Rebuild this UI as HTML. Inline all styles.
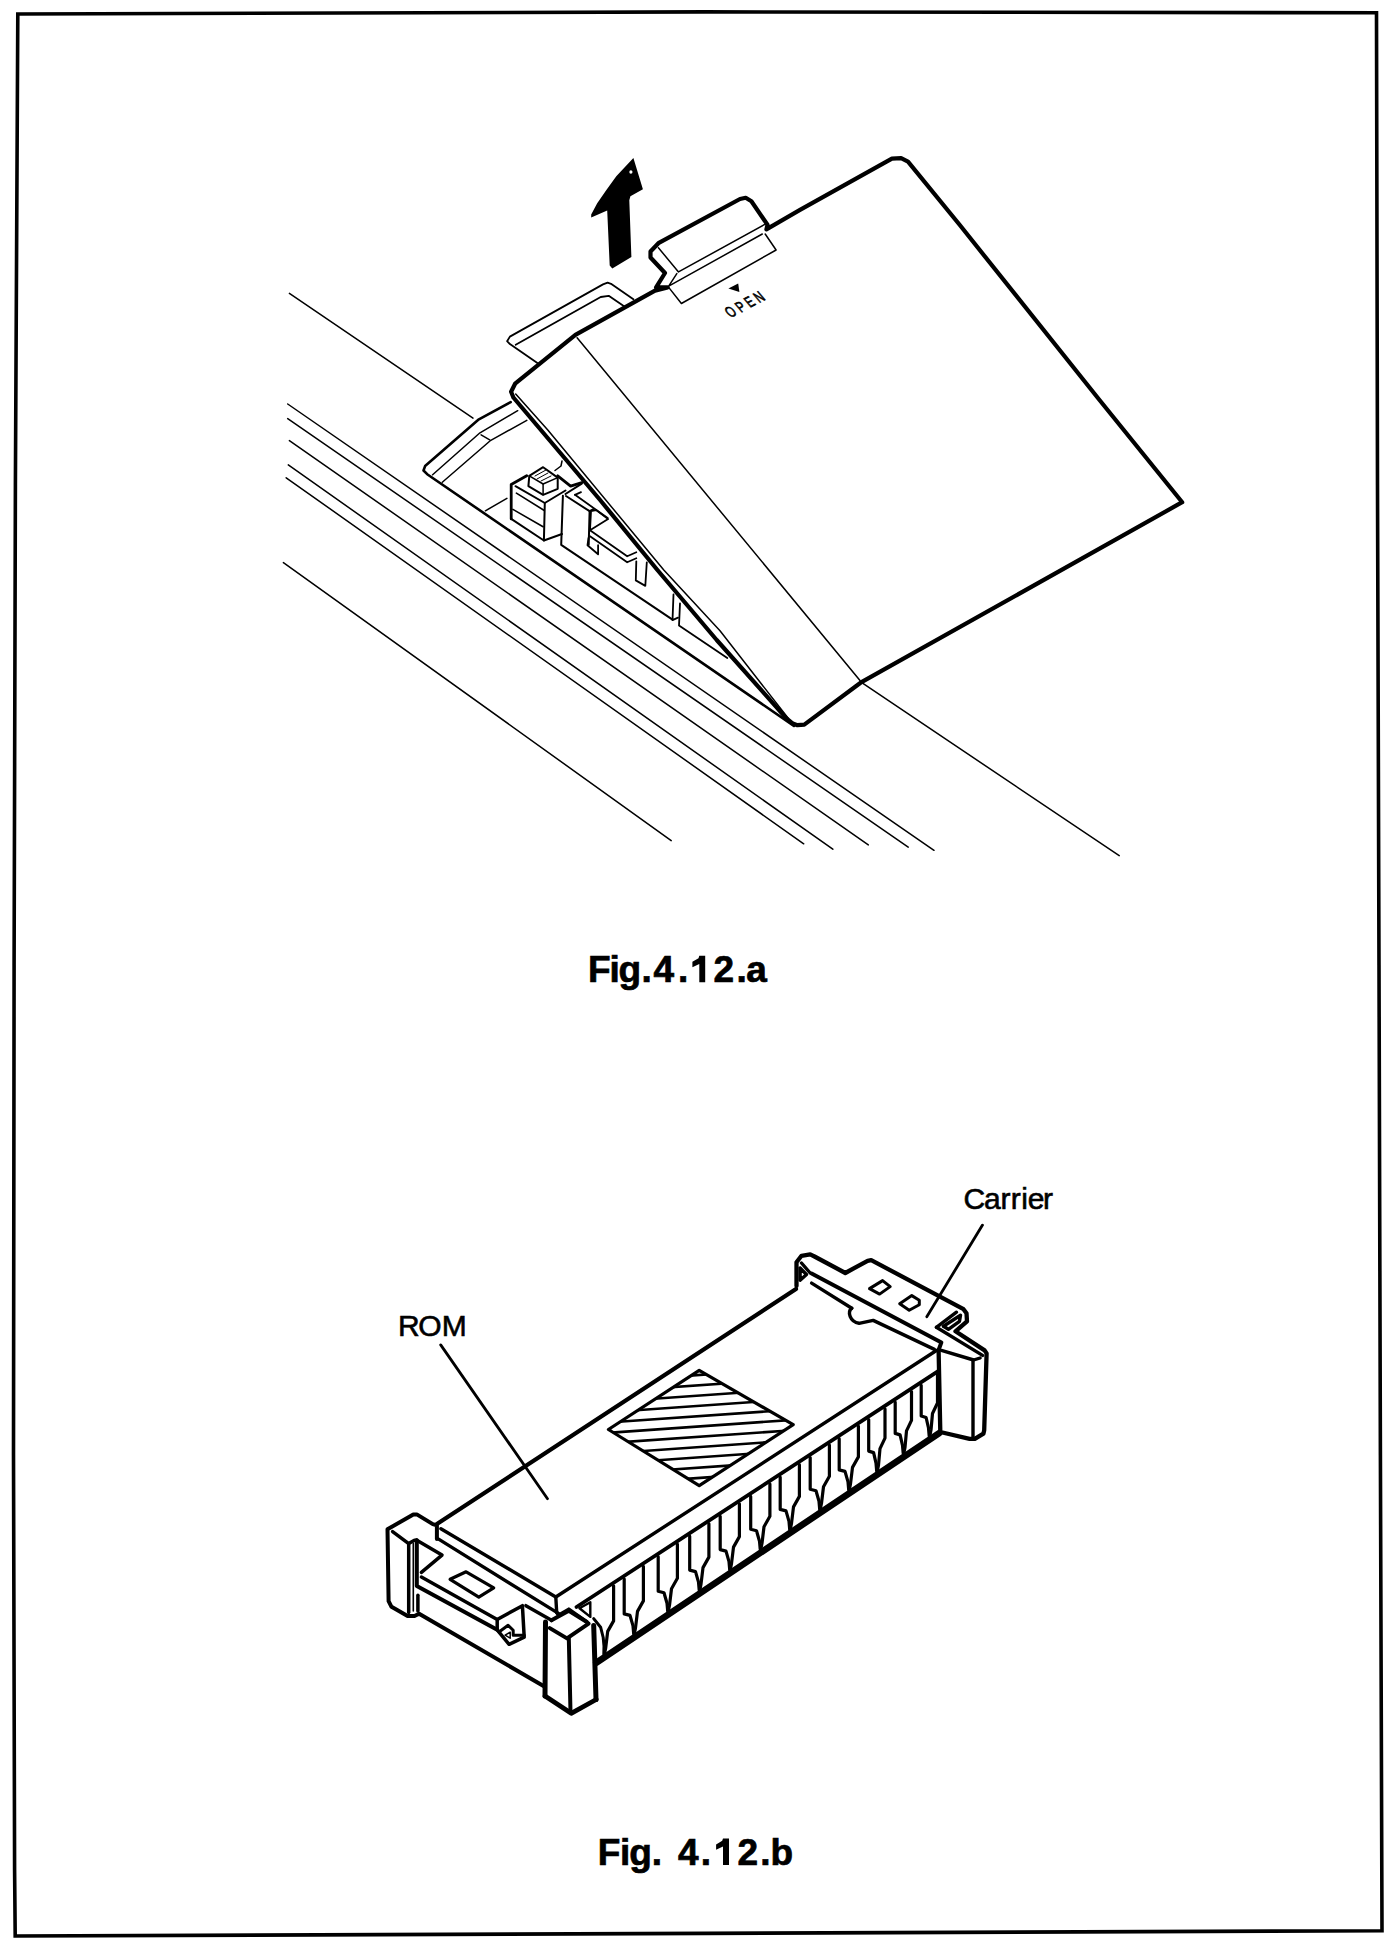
<!DOCTYPE html>
<html>
<head>
<meta charset="utf-8">
<style>
html,body{margin:0;padding:0;background:#fff;}
body{width:1393px;height:1943px;overflow:hidden;position:relative;}
svg{position:absolute;left:0;top:0;}
.t{font-family:"Liberation Sans",sans-serif;fill:#000;}
</style>
</head>
<body>
<svg width="1393" height="1943" viewBox="0 0 1393 1943">
<g fill="none" stroke="#000" stroke-linejoin="round" stroke-linecap="round">
<!-- page border -->
<path stroke-width="3.6" stroke-linejoin="miter" d="M17.8,14 L705,11.9 L1376.5,12.8 L1377.5,485 L1379,965 L1380.4,1455 L1382,1930.7 L705,1933.4 L15.2,1936 L14.6,1870 L13.5,1455 L14.1,965 L15.4,485 Z"/>

<!-- ========== FIG A ========== -->
<!-- arrow -->
<polygon fill="#000" stroke="none" points="633.4,158.1 642.9,189.2 630.4,196.3 629.3,200.3 631.4,257.1 612.3,268.6 609.7,265.6 607.2,210.4 591.2,217.4 591.2,214.4 597.2,203.3 606.2,190.3 616.3,176.2"/>
<ellipse cx="630.9" cy="172" rx="1.6" ry="1.8" fill="#fff" stroke="none"/>

<!-- long thin lines -->
<g stroke-width="1.5">
<line x1="289.4" y1="293.3" x2="473" y2="418.2"/>
<line x1="862.9" y1="683.4" x2="1119.2" y2="855.7"/>
<line x1="287.7" y1="404" x2="934" y2="850.3"/>
<line x1="287.7" y1="418.6" x2="908.2" y2="847.1"/>
<line x1="289.4" y1="440.6" x2="868.3" y2="844.9"/>
<line x1="288.3" y1="464.9" x2="832.8" y2="849.2"/>
<line x1="286.2" y1="477.8" x2="803.7" y2="843.8"/>
<line x1="283.4" y1="562.6" x2="671.2" y2="840.6"/>
</g>

<!-- recess -->
<polyline stroke-width="2.6" points="510.7,402.1 478.9,419.3 425.1,466.1 423.5,470.5 427.2,474.2 793.9,725.9"/>
<g stroke-width="1.5">
<polyline points="517.7,410.7 480,432.8 432.6,474.8"/>
<polyline points="481.1,434.9 489.7,439.8"/>
<polyline points="526.8,420.4 490.8,440.3 442.3,482.3"/>
<polyline points="506.9,498.4 485.4,510.8"/>
</g>

<!-- slot frame above cover -->
<g stroke-width="1.8">
<polyline points="633.4,299.3 611,283.8 607.6,282.6 603,284.4 509.9,336.6 507.1,341.2 509.9,344.1 538.1,363.6"/>
<polyline points="624.8,306.8 608.7,295.8 600.7,297 515.7,344.7"/>
</g>

<!-- switch block and internals -->
<g stroke-width="2">
<polyline stroke-width="2.8" points="526.7,475.8 511.2,484.5 511.2,518.9"/>
<polyline points="511.2,518.9 543.9,540.5 562,534"/>
<polyline points="515.5,486.2 544.8,503 565.5,490.5"/>
<polyline points="544.8,503 543.9,540.5"/>
<polyline stroke-width="1.6" points="516.4,493.1 543.9,510.3"/>
<polyline stroke-width="1.6" points="512.9,509.4 543.1,526.7"/>
<polygon points="529.3,475.8 528.4,486.2 543.1,494.8 557.7,488.8 557.7,477.6 543.1,467.2"/>
<polyline stroke-width="1.5" points="529.3,475.8 543.1,484 557.7,477.6"/>
<polyline stroke-width="1.5" points="543.1,484 543.1,494.8"/>
<polyline stroke-width="1" points="535,476 546,470"/>
<polyline stroke-width="1" points="537,479 548,473"/>
<polyline stroke-width="1" points="541,481 551,476"/>
<polyline stroke-width="2.8" points="557.7,475.8 570.6,486.2 581.8,482.7"/>
<polyline stroke-width="1.5" points="555,470.5 561,466 562,461"/>
<polyline points="562.9,495.7 561.2,544.8 672.5,619.6"/>
<polyline points="565.5,494 581.8,483.6"/>
<polyline points="566,496 589.6,511.2 588.7,544.8"/>
<polyline points="589.6,511.2 593,509.4"/>
<polygon stroke-width="1.8" points="591,511.1 596.1,510 608.1,519.1 590,530.2"/>
<polyline stroke-width="1.8" points="575,494.8 581,492.2"/>
<polyline stroke-width="1.8" points="575,494.8 607.7,518.1"/>
<polyline stroke-width="1.8" points="590,530.2 627.2,556.3 636.3,552.3"/>
<polyline stroke-width="1.8" points="590,536.2 627.2,562.3 636.3,558.3"/>
<polyline stroke-width="1.8" points="588.5,538 587.5,545.2 598.1,554.3 598.1,545.2"/>
<polyline stroke-width="1.8" points="636.3,561.3 635.8,580.4 645.3,585.9 646.8,562.3"/>
<polyline stroke-width="1.8" points="673.5,594.5 672.5,620.1 678,617.6"/>
<polyline stroke-width="1.8" points="680,603.5 679,625.6 727.3,658.1"/>
</g>

<!-- cover outline -->
<polyline stroke-width="4.2" points="513.4,397.5 600.1,500 657.4,570 716.7,640 785.9,717.8 792.8,723.5 797.4,725.2 804.3,724.6 860.6,682.7 1182.2,502.2 1099.5,400 960,225.3 908,161.6 901.1,158.1 891.9,158.7 800,209.8 766.4,229.4 767.5,224.8 751.4,201.3 745.7,197.8 740,199 658.4,243.2 650.5,251.5 650.5,257.5 665,273 656.1,287.4 667.6,287.4 655,290.7 575.4,334.9 515.1,383.7 511.1,391.8 513.4,397.5"/>
<g stroke-width="1.5">
<polyline points="515.7,394 547.8,430 663.8,570 720,630.7 788.2,718.3"/>
<line x1="577.1" y1="337.8" x2="860" y2="680.4"/>
<polyline points="658.4,247.8 678.5,271.9 765.2,224.2"/>
<polyline points="676.8,273.6 668.7,286.2 762.3,234"/>
<polyline points="668.7,287.4 681.4,303.5 776.1,250 765.2,234"/>
</g>
<polygon fill="#000" stroke="none" points="728.4,288.5 738.2,283.4 739.4,292"/>
</g>
<text class="t" x="0" y="0" font-size="15.4" letter-spacing="4.6" stroke="#000" stroke-width="0.7" transform="matrix(0.621,-0.323,0.69,0.81,730.6,318)">OPEN</text>

<!-- captions -->
<text class="t" x="588.1 609.6 618.6 641.6 653.5 677.9" y="982.3" font-size="37" font-weight="bold" stroke="#000" stroke-width="0.7">Fig.4.</text><polygon fill="#000" points="699.3,955.8 705.2,955.8 705.2,982.3 699.3,982.3 699.3,964 692.4,967.2 692.4,961.8 698.5,958.2"/><text class="t" x="713.6 736.4 746.2" y="982.3" font-size="37" font-weight="bold" stroke="#000" stroke-width="0.7">2.a</text>
<text class="t" x="597.8 620.1 629.3 651.7 678 700.8" y="1865.1" font-size="37" font-weight="bold" stroke="#000" stroke-width="0.7">Fig.4.</text><polygon fill="#000" points="723,1838.4 729,1838.4 729,1865.1 723,1865.1 723,1846.6 716.1,1849.8 716.1,1844.4 722.2,1840.8"/><text class="t" x="737.5 760.2 770.5" y="1865.1" font-size="37" font-weight="bold" stroke="#000" stroke-width="0.7">2.b</text>
<text class="t" x="963.4 984 1000.5 1010.8 1021.2 1027.8 1043" y="1208.6" font-size="30" stroke="#000" stroke-width="0.6">Carrier</text>
<text class="t" x="397.9 418.3 441.7" y="1335.9" font-size="30" stroke="#000" stroke-width="0.6">ROM</text>

<!-- ========== FIG B ========== -->
<!--FIGB_START-->
<g id="figb" fill="none" stroke="#000" stroke-linejoin="round" stroke-linecap="round">
<defs><clipPath id="dia"><polygon points="699.2,1370.3 793.2,1424.7 699.2,1485.6 608.4,1429.5"/></clipPath></defs>
<!-- leaders -->
<line stroke-width="2.8" x1="440.7" y1="1344.9" x2="547.5" y2="1498.7"/>
<line stroke-width="2.8" x1="982.5" y1="1225.1" x2="926.8" y2="1316.7"/>
<!-- hatched diamond -->
<g stroke-width="2.6" clip-path="url(#dia)">
<line x1="600.0" y1="1381.9" x2="800.0" y2="1367.9"/>
<line x1="600.0" y1="1392.2" x2="800.0" y2="1378.2"/>
<line x1="600.0" y1="1402.5" x2="800.0" y2="1388.5"/>
<line x1="600.0" y1="1412.8" x2="800.0" y2="1398.8"/>
<line x1="600.0" y1="1423.1" x2="800.0" y2="1409.1"/>
<line x1="600.0" y1="1433.4" x2="800.0" y2="1419.4"/>
<line x1="600.0" y1="1443.7" x2="800.0" y2="1429.7"/>
<line x1="600.0" y1="1454.0" x2="800.0" y2="1440.0"/>
<line x1="600.0" y1="1464.3" x2="800.0" y2="1450.3"/>
<line x1="600.0" y1="1474.6" x2="800.0" y2="1460.6"/>
<line x1="600.0" y1="1484.9" x2="800.0" y2="1470.9"/>
</g>
<polygon stroke-width="3.2" points="699.2,1370.3 793.2,1424.7 699.2,1485.6 608.4,1429.5"/>

<!-- ROM top face edges -->
<g stroke-width="3.4">
<polyline stroke-width="4.2" points="436.9,1524 796,1289"/>
<polyline points="440.9,1528.7 555.8,1597 936.4,1350.5"/>
<polyline points="811.6,1283.1 851.8,1308.2"/>
<path d="M851.8,1308.2 C847,1312 850,1322 859,1323.3 L873.2,1320.4 L934.4,1349.4"/>
<polyline points="438.6,1539.1 558.4,1613.4"/>
<polyline points="555.8,1597 556.7,1612.5"/>
<polyline points="556.7,1612.5 558.4,1615.1 568.8,1609.1 586.9,1622"/>
<polyline stroke-width="3.8" points="576.5,1607 938.6,1370.9"/>
<polyline stroke-width="2.4" points="579.5,1608.2 590.3,1602.2 590.3,1616.9 579.5,1608.2"/>
<polyline stroke-width="6.6" points="596.3,1662.7 939.4,1432.9"/>
</g>

<!-- pins -->
<g stroke-width="3.2">
<polyline points="613.6,1585.8 613.6,1620.9 607.7,1631.4 605.7,1647.9 604.5,1653.9"/>
<polyline points="624.2,1578.9 624.2,1613.9 630.0,1615.4 633.0,1625.9 633.7,1633.9"/>
<polyline points="643.4,1566.4 643.4,1600.9 637.5,1611.4 635.5,1627.9 634.3,1633.9"/>
<polyline points="658.2,1556.7 658.2,1591.2 664.0,1592.7 667.0,1603.2 667.7,1611.2"/>
<polyline points="677.4,1544.2 677.4,1578.2 671.5,1588.7 669.5,1605.2 668.3,1611.2"/>
<polyline points="689.7,1536.2 689.7,1570.1 695.5,1571.6 698.5,1582.1 699.2,1590.1"/>
<polyline points="708.9,1523.7 708.9,1557.1 703.0,1567.6 701.0,1584.1 699.8,1590.1"/>
<polyline points="720.2,1516.3 720.2,1549.6 726.0,1551.1 729.0,1561.6 729.7,1569.6"/>
<polyline points="739.4,1503.8 739.4,1536.6 733.5,1547.1 731.5,1563.6 730.3,1569.6"/>
<polyline points="750.7,1496.4 750.7,1529.2 756.5,1530.7 759.5,1541.2 760.2,1549.2"/>
<polyline points="769.9,1483.9 769.9,1516.2 764.0,1526.7 762.0,1543.2 760.8,1549.2"/>
<polyline points="780.2,1477.2 780.2,1509.4 786.0,1510.9 789.0,1521.4 789.7,1529.4"/>
<polyline points="799.4,1464.7 799.4,1496.4 793.5,1506.9 791.5,1523.4 790.3,1529.4"/>
<polyline points="810.2,1457.6 810.2,1489.3 816.0,1490.8 819.0,1501.3 819.7,1509.3"/>
<polyline points="829.4,1445.1 829.4,1476.3 823.5,1486.8 821.5,1503.3 820.3,1509.3"/>
<polyline points="839.2,1438.7 839.2,1469.9 845.0,1471.4 848.0,1481.9 848.7,1489.9"/>
<polyline points="858.4,1426.2 858.4,1456.9 852.5,1467.4 850.5,1483.9 849.3,1489.9"/>
<polyline points="868.7,1419.5 868.7,1451.1 873.6,1452.6 876.0,1463.1 876.7,1471.1"/>
<polyline points="885.0,1408.9 885.0,1438.1 880.0,1448.6 878.5,1465.1 877.3,1471.1"/>
<polyline points="895.2,1402.2 895.2,1433.4 900.1,1434.9 902.5,1445.4 903.2,1453.4"/>
<polyline points="911.5,1391.6 911.5,1420.4 906.5,1430.9 905.0,1447.4 903.8,1453.4"/>
<polyline points="921.2,1385.3 921.2,1416.0 926.1,1417.5 928.5,1428.0 929.2,1436.0"/>
<polyline points="937.5,1374.6 937.5,1403.0 932.5,1413.5 931.0,1430.0 929.8,1436.0"/>
</g>

<!-- left post 1 and rail -->
<g stroke-width="3.5">
<polyline stroke-width="4" points="436.9,1539.1 436.9,1525.3 432.8,1524.1 416.8,1514.4 413.3,1514.4 387.5,1529.3 388.6,1601.1 391.5,1606.8 407.6,1616 414.5,1616 419.1,1613.7 543.5,1686"/>
<polyline points="392.6,1531.6 408.7,1543.6 414.5,1540.2 416.8,1540.2"/>
<polyline points="408.7,1543.6 408.7,1612.6"/>
<polyline stroke-width="1.6" points="413.3,1543.6 413.3,1611"/>
<polyline points="416.8,1540.2 442,1555.1 421.4,1572.4"/>
<polyline stroke-width="4" points="416.8,1540.2 416.8,1586.1 497.2,1629.8"/>
<polyline points="421.4,1577 497.2,1619.5 497.2,1629.8"/>
<polyline points="497.2,1619.5 522.4,1605.7 524.2,1637.2 509.1,1644.3 497.2,1629.8"/>
<polyline stroke-width="3" points="499,1632 508.1,1625.2 513.2,1630.2 513.2,1635.2 524.2,1635.2"/>
<polygon stroke-width="1.5" points="505.1,1635.2 510.2,1632.2 510.2,1638.2"/>
<polyline points="525.9,1605.7 551.5,1620.3"/>
<polyline points="417.9,1595.3 417.9,1611"/>
<polygon stroke-width="3.2" points="450.1,1579.3 466.1,1571.8 493.7,1587.9 478.8,1597.1"/>
</g>

<!-- post 2 -->
<g stroke-width="4">
<polyline stroke-width="5" points="545.5,1622 545,1696"/>
<polyline points="551.5,1620.3 568.8,1610.8 586.9,1622"/>
<polyline points="549.8,1628.1 567,1638.4 588.6,1623.7"/>
<polyline points="568.8,1638 570.5,1712"/>
<polyline stroke-width="5" points="593.7,1625.5 596,1699.5"/>
<polyline stroke-width="4.8" points="545,1696 571.2,1713.3 596.2,1699.5"/>
<polyline stroke-width="3" points="593.7,1618.6 600.6,1627.2 603.2,1637.5 604,1646 603.8,1654"/>
</g>

<!-- carrier -->
<g stroke-width="3.4">
<polyline stroke-width="4.3" points="796.5,1286 796.5,1262.3 801.5,1255.8 810.2,1254.4 814.5,1256.5 845.3,1273 867.6,1260.8 871.2,1260.1 963.5,1309.2 966.5,1313.2 967,1321.3 955.5,1331.3 984.6,1350.4 986.6,1353.4 984.2,1430.3 983.4,1433.7 974.8,1438.9 969.6,1438.9 940.3,1432 938.6,1350"/>
<polyline points="936.4,1327.3 956.5,1312.2"/>
<polyline points="943.4,1326.3 960.5,1315.2 959.5,1321.3 948.4,1329.3 943.4,1326.3"/>
<polyline points="936.4,1327.3 982.6,1355.4"/>
<polyline points="801.5,1263 810.2,1273"/>
<polyline points="800.1,1268 806.5,1274.5 800.1,1280.2 800.1,1268"/>
<polyline stroke-width="4" points="811.6,1273.5 941.4,1342.4 938.6,1350"/>
<polyline points="941.4,1350.4 973.6,1360 980.1,1358"/>
<polyline points="973,1360 973,1437.2"/>
<polygon stroke-width="3" points="869.5,1288.6 882.6,1280.6 890.2,1286.6 879.6,1294.1"/>
<polygon stroke-width="3" points="899.7,1303.7 911.8,1295.6 919.3,1300.2 919.3,1304.7 909.2,1310.2"/>
</g>
</g>
<!--FIGB_END-->
</svg>
</body>
</html>
